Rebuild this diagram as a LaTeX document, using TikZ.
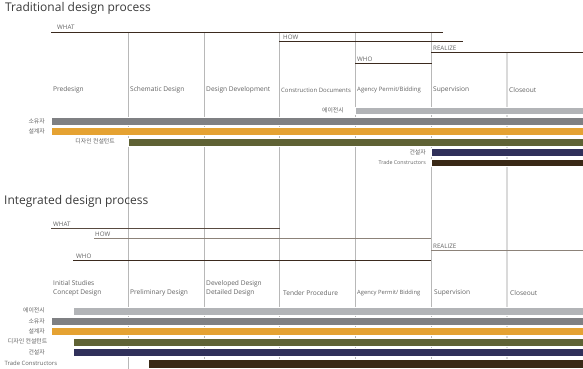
\documentclass[tikz,border=0pt]{standalone}
\usepackage{fontspec}
\setmainfont{Open Sans}
\newfontfamily\kr{Noto Sans CJK KR}
\definecolor{gridgray}{HTML}{B8B8B8}
\definecolor{gridlight}{HTML}{DADADA}
\definecolor{labgray}{HTML}{626262}
\definecolor{titlegray}{HTML}{3A3A3A}
\definecolor{linedark}{HTML}{3B2A1E}
\definecolor{linemid}{HTML}{8C8279}
\definecolor{agency}{HTML}{B2B4B7}
\definecolor{owner}{HTML}{7F8083}
\definecolor{designer}{HTML}{E5A232}
\definecolor{consult}{HTML}{5F6234}
\definecolor{builder}{HTML}{30305A}
\definecolor{trade}{HTML}{3A2916}
\begin{document}
\begin{tikzpicture}[x=1pt,y=-1pt,
  grid/.style={draw=gridgray, line width=0.8pt},
  gridl/.style={draw=gridlight, line width=1.2pt},
  hline/.style={draw=linedark, line width=1pt},
  hlinem/.style={draw=linemid, line width=1.2pt},
  bar/.style={draw=white, line width=0.4pt},
  ttl/.style={font=\fontsize{12}{14}\selectfont, text=titlegray, inner sep=0, anchor=west},
  lab/.style={font=\fontsize{6.6}{8}\selectfont, text=labgray, inner sep=0, anchor=west},
  wlab/.style={font=\fontsize{6.2}{7}\selectfont, text=labgray, inner sep=0, anchor=base west},
  slab/.style={font=\fontsize{5.3}{6}\selectfont, text=labgray, inner sep=0, anchor=east},
  klab/.style={font=\kr\fontsize{5.9}{6}\selectfont, text=labgray, inner sep=0, anchor=east},
  two/.style={align=left, font=\fontsize{6.6}{9.5}\selectfont}
]
\useasboundingbox (0,0) rectangle (583,369);
% vertical grid
\foreach \x in {128,204,279,355,431} \draw[grid] (\x,32) -- (\x,369);
\draw[gridl] (507,53) -- (507,369);

% ===== Traditional =====
\node[ttl] (t1) at (5,8) {Traditional design process};
\node[wlab] (whatT) at (57,30) {WHAT};
\draw[hline] (51,32.5) -- (443,32.5);
\node[wlab] (howT) at (283,39.5) {HOW};
\draw[hline] (279,41.5) -- (463,41.5);
\node[wlab] (realT) at (433,50.5) {REALIZE};
\draw[hline] (431,52.5) -- (583,52.5);
\node[wlab] (whoT) at (357,61) {WHO};
\draw[hline] (355,63) -- (432,63);

\node[lab] (p1) at (53,90) {Predesign};
\node[lab] (p2) at (130,90) {Schematic Design};
\node[lab] (p3) at (206,90) {Design Development};
\node[lab, font=\fontsize{6}{7}\selectfont] (p4) at (281,90) {Construction Documents};
\node[lab, font=\fontsize{6}{7}\selectfont] (p5) at (357,90) {Agency Permit/Bidding};
\node[lab] (p6) at (433,90) {Supervision};
\node[lab] (p7) at (509,90) {Closeout};

\path[bar, fill=agency] (355,107) rectangle (583,114.5);
\path[bar, fill=owner] (51,117) rectangle (583,125);
\path[bar, fill=designer] (51,127.5) rectangle (583,135.5);
\path[bar, fill=consult] (128,138) rectangle (583,146);
\path[bar, fill=builder] (431,148.5) rectangle (583,156.5);
\path[bar, fill=trade] (431,159) rectangle (583,166.5);

\node[klab] (kA) at (344,110.5) {에이전시};
\node[klab] (kO) at (45,121) {소유자};
\node[klab] (kD) at (45,131.5) {설계자};
\node[klab] (kC) at (115,141.5) {디자인 컨설턴트};
\node[klab] (kB) at (426,152.5) {건설자};
\node[slab] (kT) at (426,162.5) {Trade Constructors};

% ===== Integrated =====
\node[ttl] (t2) at (4,201) {Integrated design process};
\node[wlab] (whatI) at (53,226.5) {WHAT};
\draw[draw=linedark!85, line width=1pt] (51,228.5) -- (280,228.5);
\node[wlab] (howI) at (95,236.5) {HOW};
\draw[hlinem] (94,238.7) -- (431,238.7);
\node[wlab] (realI) at (433,248) {REALIZE};
\draw[hlinem] (431,250.5) -- (583,250.5);
\node[wlab] (whoI) at (76,258) {WHO};
\draw[hline] (73,260.3) -- (431,260.3);

\node[lab, two] (q1) at (53,288.5) {Initial Studies\\Concept Design};
\node[lab] (q2) at (130,293) {Preliminary Design};
\node[lab, two] (q3) at (206,288.5) {Developed Design\\Detailed Design};
\node[lab] (q4) at (283,293) {Tender Procedure};
\node[lab, font=\fontsize{5.8}{7}\selectfont] (q5) at (357,293) {Agency Permit/ Bidding};
\node[lab] (q6) at (434,293) {Supervision};
\node[lab] (q7) at (510,293) {Closeout};

\path[bar, fill=agency] (73,307.5) rectangle (583,315);
\path[bar, fill=owner] (51,317.5) rectangle (583,325.5);
\path[bar, fill=designer] (51,327.5) rectangle (583,335.5);
\path[bar, fill=consult] (73,338) rectangle (583,346);
\path[bar, fill=builder] (73,348) rectangle (583,356);
\path[bar, fill=trade] (148,359) rectangle (583,368);

\node[klab] (iA) at (45,310.5) {에이전시};
\node[klab] (iO) at (45,321) {소유자};
\node[klab] (iD) at (45,331.5) {설계자};
\node[klab] (iC) at (47.5,341.5) {디자인 컨설턴트};
\node[klab] (iB) at (45,352) {건설자};
\node[slab, anchor=west, font=\fontsize{5.9}{7}\selectfont] (iT) at (4.5,363) {Trade Constructors};
\end{tikzpicture}
\end{document}
